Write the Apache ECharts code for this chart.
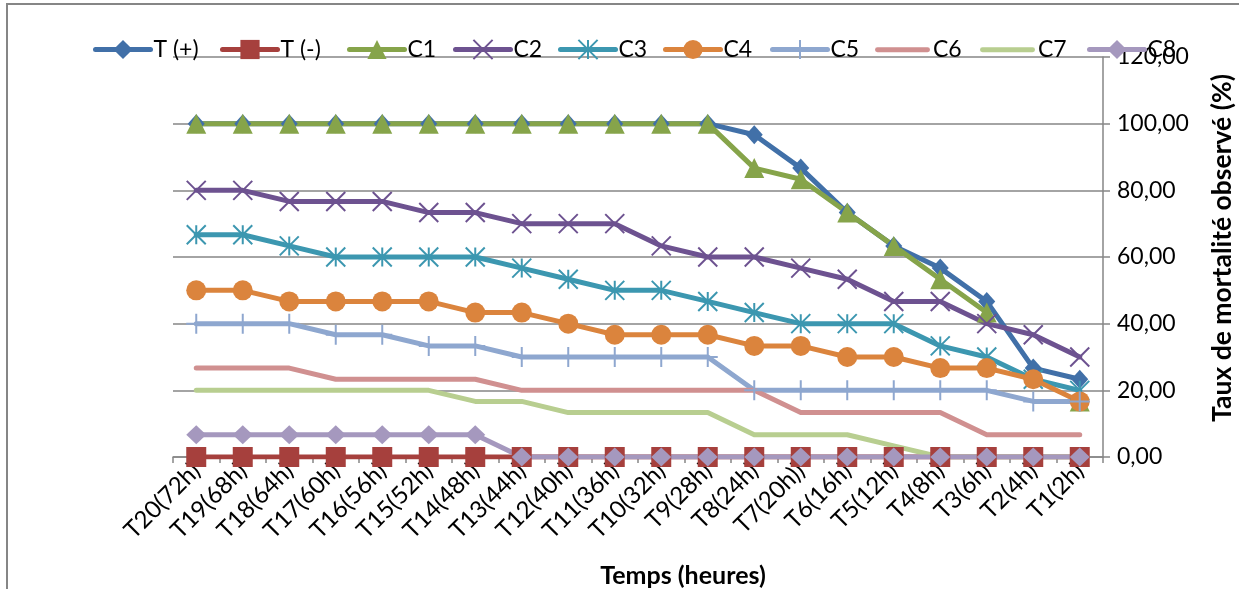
<!DOCTYPE html>
<html>
<head>
<meta charset="utf-8">
<script src="https://cdn.jsdelivr.net/npm/echarts@6/dist/echarts.min.js"></script>
<style>
html, body { margin: 0; padding: 0; background: #fff; }
#chart { width: 1239px; height: 589px; }
</style>
</head>
<body>
<div id="chart"></div>
<script>
// categories (time points)
const categories = ['T20(72h)', 'T19(68h)', 'T18(64h)', 'T17(60h)', 'T16(56h)', 'T15(52h)', 'T14(48h)',
    'T13(44h)', 'T12(40h)', 'T11(36h)', 'T10(32h)', 'T9(28h)', 'T8(24h)', 'T7(20h))', 'T6(16h)',
    'T5(12h)', 'T4(8h)', 'T3(6h)', 'T2(4h)', 'T1(2h)']

// mortality rates (%)
const tPlus = [100, 100, 100, 100, 100, 100, 100, 100, 100, 100, 100, 100, 96.67, 86.67, 73.33, 63.33, 56.67, 46.67, 26.67, 23.33]
const tMinus = [0, 0, 0, 0, 0, 0, 0, 0, 0, 0, 0, 0, 0, 0, 0, 0, 0, 0, 0, 0]
const c1 = [100, 100, 100, 100, 100, 100, 100, 100, 100, 100, 100, 100, 86.67, 83.33, 73.33, 63.33, 53.33, 43.33, null, 16.67]
const c2 = [80, 80, 76.67, 76.67, 76.67, 73.33, 73.33, 70, 70, 70, 63.33, 60, 60, 56.67, 53.33, 46.67, 46.67, 40, 36.67, 30]
const c3 = [66.67, 66.67, 63.33, 60, 60, 60, 60, 56.67, 53.33, 50, 50, 46.67, 43.33, 40, 40, 40, 33.33, 30, 23.33, 20]
const c4 = [50, 50, 46.67, 46.67, 46.67, 46.67, 43.33, 43.33, 40, 36.67, 36.67, 36.67, 33.33, 33.33, 30, 30, 26.67, 26.67, 23.33, 16.67]
const c5 = [40, 40, 40, 36.67, 36.67, 33.33, 33.33, 30, 30, 30, 30, 30, 20, 20, 20, 20, 20, 20, 16.67, 16.67]
const c6 = [26.67, 26.67, 26.67, 23.33, 23.33, 23.33, 23.33, 20, 20, 20, 20, 20, 20, 13.33, 13.33, 13.33, 13.33, 6.67, 6.67, 6.67]
const c7 = [20, 20, 20, 20, 20, 20, 16.67, 16.67, 13.33, 13.33, 13.33, 13.33, 6.67, 6.67, 6.67, 3.33, 0, 0, 0, 0]
const c8 = [6.67, 6.67, 6.67, 6.67, 6.67, 6.67, 6.67, 0, 0, 0, 0, 0, 0, 0, 0, 0, 0, 0, 0, 0]

// y axis ticks
const yMin = 0
const yMax = 120
const yStep = 20

const FONT = 'Lato'
const GRAY = '#868686'

// marker shapes drawn as strokes
const crossPath = 'path://M0,0L10,10M10,0L0,10'
const starPath = 'path://M5,0L5,10M0,0L10,10M10,0L0,10'
const plusPath = 'path://M5,0L5,10M0,5L10,5'
// legend icon for lines without markers: a bar in the middle of a 55x24 box
const barIcon = 'path://M0,0L0,0M2,9.5L53,9.5A2.5,2.5,0,0,1,53,14.5L2,14.5A2.5,2.5,0,0,1,2,9.5ZM55,24L55,24'

function mkLine(name, data, color, symbol, size, stroked) {
    return {
        name: name,
        type: 'line',
        data: data,
        symbol: symbol,
        symbolSize: size,
        showAllSymbol: true,
        connectNulls: false,
        lineStyle: { color: color, width: 5, cap: 'round', join: 'round' },
        itemStyle: stroked
            ? { color: color, borderColor: color, borderWidth: 2 }
            : { color: color, borderWidth: 0 },
        emphasis: { disabled: true }
    }
}

const seriesList = [
    mkLine('T (+)', tPlus, '#4170A8', 'diamond', [17, 19], false),
    mkLine('T (-)', tMinus, '#A6403D', 'rect', 20, false),
    mkLine('C1', c1, '#86A44A', 'triangle', 20, false),
    mkLine('C2', c2, '#6D5290', crossPath, 19, true),
    mkLine('C3', c3, '#3C97B0', starPath, 19, true),
    mkLine('C4', c4, '#DB843D', 'circle', 20, false),
    mkLine('C5', c5, '#8EA7CF', plusPath, 20, true),
    mkLine('C6', c6, '#D09090', 'none', 0, false),
    mkLine('C7', c7, '#B8CE90', 'none', 0, false),
    mkLine('C8', c8, '#A598BE', 'diamond', [20, 19], false)
]

// one legend per entry so each sits where Excel put it
const legendLefts = [88, 215, 342, 448, 553, 658, 765, 870, 975, 1082]
const legends = seriesList.map((s, i) => {
    const noMarker = s.symbol === 'none'
    return {
        left: legendLefts[i],
        top: 33,
        itemWidth: 55,
        itemHeight: 24,
        itemGap: 0,
        icon: noMarker ? barIcon : undefined,
        lineStyle: { width: 5 },
        textStyle: { fontFamily: FONT, fontSize: 23, color: '#000', padding: [0, 0, 0, -2] },
        data: [s.name]
    }
})

const chart = echarts.init(document.getElementById('chart'))
const option = {
    animation: false,
    graphic: [{
        type: 'rect',
        shape: { x: 7, y: 4, width: 1300, height: 700 },
        style: { fill: 'none', stroke: GRAY, lineWidth: 2 },
        silent: true
    }],
    legend: legends,
    grid: { left: 173, right: 136, top: 57, bottom: 132, containLabel: false, outerBoundsMode: 'none' },
    xAxis: {
        type: 'category',
        data: categories,
        boundaryGap: true,
        name: 'Temps (heures)',
        nameLocation: 'middle',
        nameGap: 106,
        nameTextStyle: { fontFamily: FONT, fontSize: 25, fontWeight: 'bold', color: '#000', padding: [0, 0, 0, 90] },
        axisLine: { lineStyle: { color: GRAY, width: 1.5 } },
        axisTick: { show: true, length: 6, lineStyle: { color: GRAY, width: 1.5 } },
        axisLabel: { rotate: 45, margin: 10, fontFamily: FONT, fontSize: 24, color: '#000', interval: 0 },
        splitLine: { show: false }
    },
    yAxis: {
        type: 'value',
        position: 'right',
        min: yMin,
        max: yMax,
        interval: yStep,
        name: 'Taux de mortalité observé (%)',
        nameLocation: 'middle',
        nameRotate: 90,
        nameGap: 106,
        nameTextStyle: { fontFamily: FONT, fontSize: 26.5, fontWeight: 'bold', color: '#000', padding: [0, 0, 0, 18] },
        axisLine: { show: true, lineStyle: { color: GRAY, width: 1.5 } },
        axisTick: { show: true, length: 7, lineStyle: { color: GRAY, width: 1.5 } },
        axisLabel: {
            margin: 14, fontFamily: FONT, fontSize: 23, color: '#000',
            formatter: v => v.toFixed(2).replace('.', ',')
        },
        splitLine: { show: true, lineStyle: { color: GRAY, width: 1.5 } }
    },
    series: seriesList
}
chart.setOption(option)
</script>
</body>
</html>
